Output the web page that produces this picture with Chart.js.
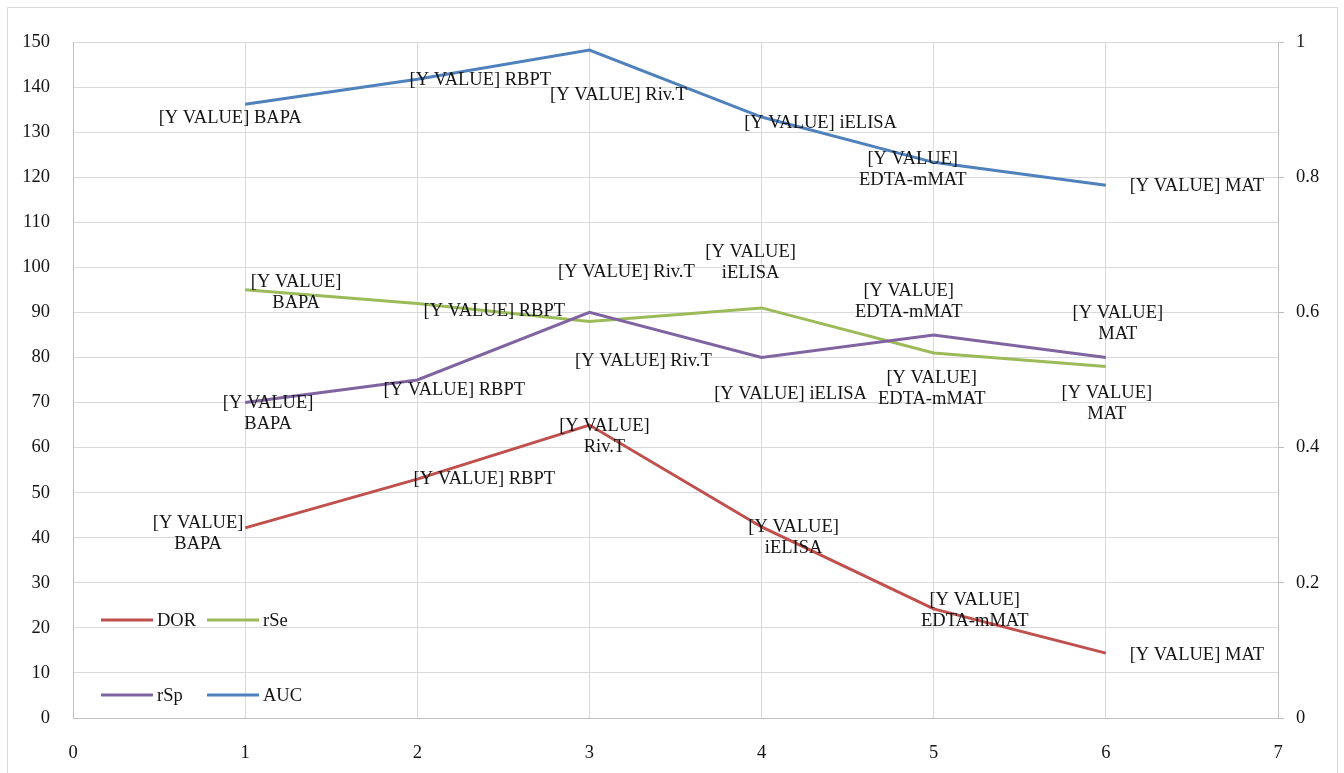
<!DOCTYPE html>
<html>
<head>
<meta charset="utf-8">
<script src="https://cdn.jsdelivr.net/npm/chart.js@4/dist/chart.umd.min.js"></script>
<style>
html,body{margin:0;padding:0;background:#fff;}
#wrap{width:1344px;height:773px;position:relative;}
</style>
</head>
<body>
<div id="wrap"><canvas id="c" width="1344" height="773"></canvas></div>
<script>
// ---- data ----
const xValues = [1, 2, 3, 4, 5, 6];
const testNames = ["BAPA", "RBPT", "Riv.T", "iELISA", "EDTA-mMAT", "MAT"];
const seriesNames = ["DOR", "rSe", "rSp", "AUC"];
const dorValues = [42.2, 53, 65, 42.4, 24.2, 14.4];
const rSeValues = [95, 92, 88, 91, 81, 78];
const rSpValues = [70, 75, 90, 80, 85, 80];
const aucValues = [0.908, 0.945, 0.988, 0.889, 0.822, 0.788];
const leftTicks = {min: 0, max: 150, step: 10};
const rightTicks = {min: 0, max: 1, step: 0.2};
const xTicks = {min: 0, max: 7, step: 1};

// ---- styles ----
const colors = ["#C0504D", "#9BBB59", "#8064A2", "#4F81BD"];
const serif = "'Liberation Serif', 'Times New Roman', serif";
const fontSize = 18.5;
const textColor = '#141414';
// label offsets [dx, dy, wrap] relative to each point (style only)
const labelLayout = [
  [[-47,6,1],[67,0,0],[15,12,1],[32,11,1],[41,2,1],[91,2,0]],
  [[51,3,1],[77,8,0],[37,-49,0],[-11,-45,1],[-25,-51,1],[12,-43,1]],
  [[23,11,1],[37,10,0],[54,49,0],[29,37,0],[-2,54,1],[1,46,1]],
  [[-15,14,0],[63,1,0],[29,45,0],[59,6,0],[-21,7,1],[91,1,0]]
];

const seriesValues = [dorValues, rSeValues, rSpValues, aucValues];
const axisIds = ['y', 'y', 'y', 'y1'];

const datasets = seriesValues.map((vals, i) => ({
  label: seriesNames[i],
  data: vals.map((v, j) => ({x: xValues[j], y: v})),
  borderColor: colors[i],
  backgroundColor: colors[i],
  borderWidth: 3,
  pointRadius: 0,
  pointHoverRadius: 0,
  tension: 0,
  yAxisID: axisIds[i],
  order: 4 - i
}));

const borderPlugin = {
  id: 'outerBorder',
  beforeDraw(chart) {
    const ctx = chart.ctx;
    ctx.save();
    ctx.fillStyle = '#fff';
    ctx.fillRect(0, 0, chart.width, chart.height);
    ctx.strokeStyle = '#D9D9D9';
    ctx.lineWidth = 1;
    ctx.strokeRect(7.5, 7.5, 1330, 790);
    ctx.restore();
  }
};

const labelPlugin = {
  id: 'pointLabels',
  afterDatasetsDraw(chart) {
    const ctx = chart.ctx;
    ctx.save();
    ctx.font = fontSize + 'px ' + serif;
    ctx.fillStyle = textColor;
    ctx.textAlign = 'center';
    ctx.textBaseline = 'middle';
    chart.data.datasets.forEach((ds, i) => {
      const meta = chart.getDatasetMeta(i);
      meta.data.forEach((pt, j) => {
        const [dx, dy, wrap] = labelLayout[i][j];
        const cx = pt.x + dx, cy = pt.y + dy;
        if (wrap) {
          ctx.fillText('[Y VALUE]', cx, cy - 10.5);
          ctx.fillText(testNames[j], cx, cy + 10.5);
        } else {
          ctx.fillText('[Y VALUE] ' + testNames[j], cx, cy);
        }
      });
    });
    ctx.restore();
  }
};

const legendPlugin = {
  id: 'innerLegend',
  afterDraw(chart) {
    const ctx = chart.ctx;
    const items = [
      {i: 0, x: 101, y: 620}, {i: 1, x: 207, y: 620},
      {i: 2, x: 101, y: 695}, {i: 3, x: 207, y: 695}
    ];
    ctx.save();
    ctx.font = fontSize + 'px ' + serif;
    ctx.textBaseline = 'middle';
    ctx.textAlign = 'left';
    items.forEach(it => {
      const ds = chart.data.datasets[it.i];
      ctx.strokeStyle = ds.borderColor;
      ctx.lineWidth = 3;
      ctx.beginPath();
      ctx.moveTo(it.x, it.y);
      ctx.lineTo(it.x + 52, it.y);
      ctx.stroke();
      ctx.fillStyle = textColor;
      ctx.fillText(ds.label, it.x + 56, it.y + 1);
    });
    ctx.restore();
  }
};

new Chart(document.getElementById('c'), {
  type: 'line',
  data: {datasets},
  options: {
    responsive: false,
    animation: false,
    events: [],
    layout: {padding: {top: 42, left: 0, right: 0, bottom: 0}},
    plugins: {legend: {display: false}, tooltip: {enabled: false}},
    scales: {
      x: {
        type: 'linear',
        min: xTicks.min, max: xTicks.max,
        afterFit(s) { s.height = 55; },
        ticks: {stepSize: xTicks.step, color: textColor, font: {family: serif, size: fontSize}, padding: 24},
        grid: {color: '#D9D9D9', lineWidth: 1, drawTicks: false},
        border: {color: '#BFBFBF', width: 1}
      },
      y: {
        position: 'left',
        min: leftTicks.min, max: leftTicks.max,
        afterFit(s) { s.width = 73; },
        ticks: {stepSize: leftTicks.step, color: textColor, font: {family: serif, size: fontSize}, padding: 23},
        grid: {color: '#D9D9D9', lineWidth: 1, drawTicks: false},
        border: {color: '#BFBFBF', width: 1}
      },
      y1: {
        position: 'right',
        min: rightTicks.min, max: rightTicks.max,
        afterFit(s) { s.width = 66; },
        ticks: {stepSize: rightTicks.step, color: textColor, font: {family: serif, size: fontSize}, padding: 12,
          callback: v => String(Math.round(v * 10) / 10)},
        grid: {drawOnChartArea: false, color: '#BFBFBF', tickLength: 6},
        border: {color: '#BFBFBF', width: 1}
      }
    }
  },
  plugins: [borderPlugin, labelPlugin, legendPlugin]
});
</script>
</body>
</html>
